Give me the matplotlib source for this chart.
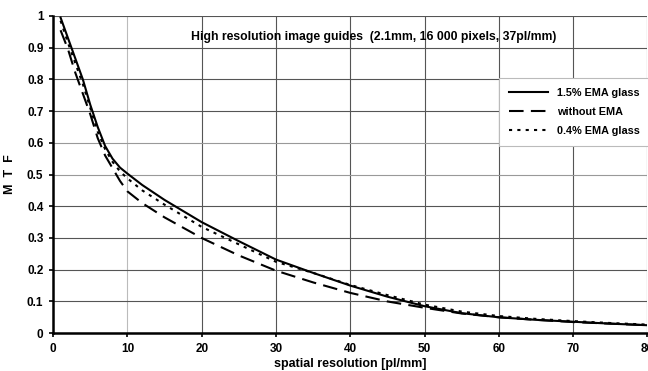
import numpy as np
from matplotlib import pyplot as plt

plt.rcParams["font.family"] = ["Liberation Sans", "DejaVu Sans"]
plt.rcParams["font.weight"] = "bold"

# spatial resolution [pl/mm]
freq = [1, 2, 3, 4, 5, 6, 7, 8, 9, 10, 12, 15, 20, 25, 30, 35, 40, 45, 50, 55, 60, 65, 70, 75, 80]

mtf_15 = [0.995, 0.93, 0.865, 0.8, 0.72, 0.65, 0.59, 0.55, 0.522, 0.503, 0.467, 0.42, 0.35, 0.29,
          0.232, 0.19, 0.15, 0.115, 0.085, 0.063, 0.05, 0.042, 0.036, 0.03, 0.025]
mtf_none = [0.955, 0.895, 0.82, 0.755, 0.69, 0.615, 0.56, 0.52, 0.48, 0.447, 0.41, 0.365, 0.3,
            0.245, 0.197, 0.16, 0.127, 0.1, 0.08, 0.062, 0.05, 0.042, 0.035, 0.03, 0.025]
mtf_04 = [0.985, 0.915, 0.85, 0.785, 0.71, 0.635, 0.58, 0.54, 0.51, 0.488, 0.45, 0.405, 0.335,
          0.28, 0.225, 0.19, 0.152, 0.12, 0.09, 0.068, 0.054, 0.045, 0.038, 0.032, 0.027]

labels = ["1.5% EMA glass", "without EMA", "0.4% EMA glass"]
title = "High resolution image guides  (2.1mm, 16 000 pixels, 37pl/mm)"

fig = plt.figure(figsize=(6.48, 3.71), dpi=100)
ax = fig.add_axes([0.082, 0.102, 0.917, 0.855])

ax.plot(freq, mtf_15, color="black", lw=1.5, label=labels[0])
ax.plot(freq, mtf_none, color="black", lw=1.5, dashes=(7, 3.5), label=labels[1])
ax.plot(freq, mtf_04, color="black", lw=1.5, dashes=(1.5, 2.5), label=labels[2])

ax.set_xlim(0, 80)
ax.set_ylim(0, 1)
ax.set_xticks(np.arange(0, 81, 10))
ax.set_yticks(np.round(np.arange(0, 1.01, 0.1), 1))
ax.set_yticklabels(["0", "0.1", "0.2", "0.3", "0.4", "0.5", "0.6", "0.7", "0.8", "0.9", "1"])
ax.tick_params(labelsize=8.5, length=3, width=1.2, direction="out", pad=4)

ax.grid(True, color="#555555", lw=0.8)
ax.set_axisbelow(True)
ax.get_xgridlines()[1].set_color("#bbbbbb")
for i in (5, 6):
    ax.get_ygridlines()[i].set_color("#999999")

ax.spines["top"].set_visible(False)
ax.spines["right"].set_visible(False)
ax.spines["left"].set_linewidth(1.8)
ax.spines["bottom"].set_linewidth(1.8)

ax.set_xlabel("spatial resolution [pl/mm]", fontsize=9, fontweight="bold", labelpad=2)
ax.set_ylabel("M  T  F", fontsize=9, fontweight="bold")
ax.yaxis.set_label_coords(-0.063, 0.5)
ax.text(0.54, 0.935, title, transform=ax.transAxes, ha="center", va="center",
        fontsize=8.8, fontweight="bold")

leg = ax.legend(loc="upper right", bbox_to_anchor=(1.002, 0.79), bbox_transform=fig.transFigure,
                borderaxespad=0, fancybox=False, framealpha=1, edgecolor="#bbbbbb",
                fontsize=7.8, handlelength=3.6, labelspacing=0.85, borderpad=0.9,
                handletextpad=0.8)
leg.get_frame().set_linewidth(0.8)

fig.savefig("out.png", dpi=100)
